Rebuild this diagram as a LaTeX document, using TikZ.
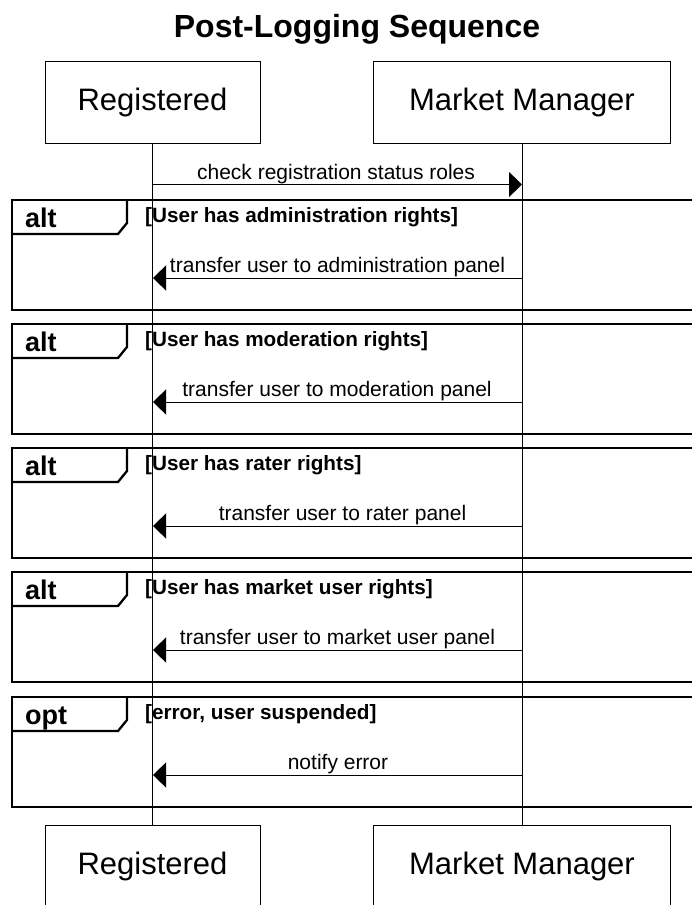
\documentclass[tikz,border=0pt]{standalone}
\usepackage{fontspec}
\setmainfont{Liberation Sans}
\usetikzlibrary{arrows.meta}
\begin{document}
\begin{tikzpicture}[x=1pt,y=-1pt,
  participant/.style={draw, line width=1pt, minimum width=#1, minimum height=82pt,
    inner sep=0pt, font=\fontsize{31}{31}\selectfont},
  lifeline/.style={line width=1pt},
  msg/.style={line width=1pt, -{Triangle[length=13pt,width=25pt]}},
  msglabel/.style={font=\fontsize{21}{21}\selectfont, anchor=base, inner sep=0pt},
  fragment/.style={line width=2.3pt},
  tablabel/.style={font=\bfseries\fontsize{27}{27}\selectfont, anchor=base west, inner sep=0pt},
  guard/.style={font=\bfseries\fontsize{20.7}{20.7}\selectfont, anchor=base west, inner sep=0pt},
  title/.style={font=\bfseries\fontsize{32}{32}\selectfont, anchor=base, inner sep=0pt},
]
\useasboundingbox (0,0) rectangle (692,905);
\clip (0,0) rectangle (692,905);

% title
\node[title] (title) at (357,37) {Post-Logging Sequence};

% participants, head and foot
\node[participant=215pt] (regTop) at (152.5,102) {Registered};
\node[participant=297pt] (mmTop)  at (522,102) {Market Manager};
\node[participant=215pt] (regBot) at (152.5,866) {Registered};
\node[participant=297pt] (mmBot)  at (522,866) {Market Manager};

% lifelines
\draw[lifeline] (regTop.south) -- (regBot.north);
\draw[lifeline] (mmTop.south) -- (mmBot.north);

% first request
\coordinate (reqFrom) at (153,184.5);
\coordinate (reqTo)   at (522,184.5);
\draw[msg] (reqFrom) -- (reqTo);
\node[msglabel] (reqLabel) at (336,179) {check registration status roles};

% combined fragments
\foreach \top/\kind/\guardtext/\msgtext/\cx [count=\i] in {
  200/alt/{User has administration rights}/{transfer user to administration panel}/337.5,
  324/alt/{User has moderation rights}/{transfer user to moderation panel}/337,
  448/alt/{User has rater rights}/{transfer user to rater panel}/342.5,
  572/alt/{User has market user rights}/{transfer user to market user panel}/337.5,
  697/opt/{error, user suspended}/{notify error}/338}{
  \pgfmathsetmacro{\bot}{\top+110}
  \pgfmathsetmacro{\my}{\top+78}
  \draw[fragment] (12,\top) rectangle (720,\bot);
  \draw[fragment] (12,\top+34) -- (118,\top+34) -- (127,\top+23) -- (127,\top);
  \node[tablabel] (kind\i) at (25,\top+27.5) {\kind};
  \node[guard] (guard\i) at (145,\top+22.5) {[\guardtext]};
  \coordinate (from\i) at (522,\my);
  \coordinate (to\i) at (153,\my);
  \draw[msg] (from\i) -- (to\i);
  \node[msglabel] (label\i) at (\cx,\my-5.5) {\msgtext};
}
\end{tikzpicture}
\end{document}
